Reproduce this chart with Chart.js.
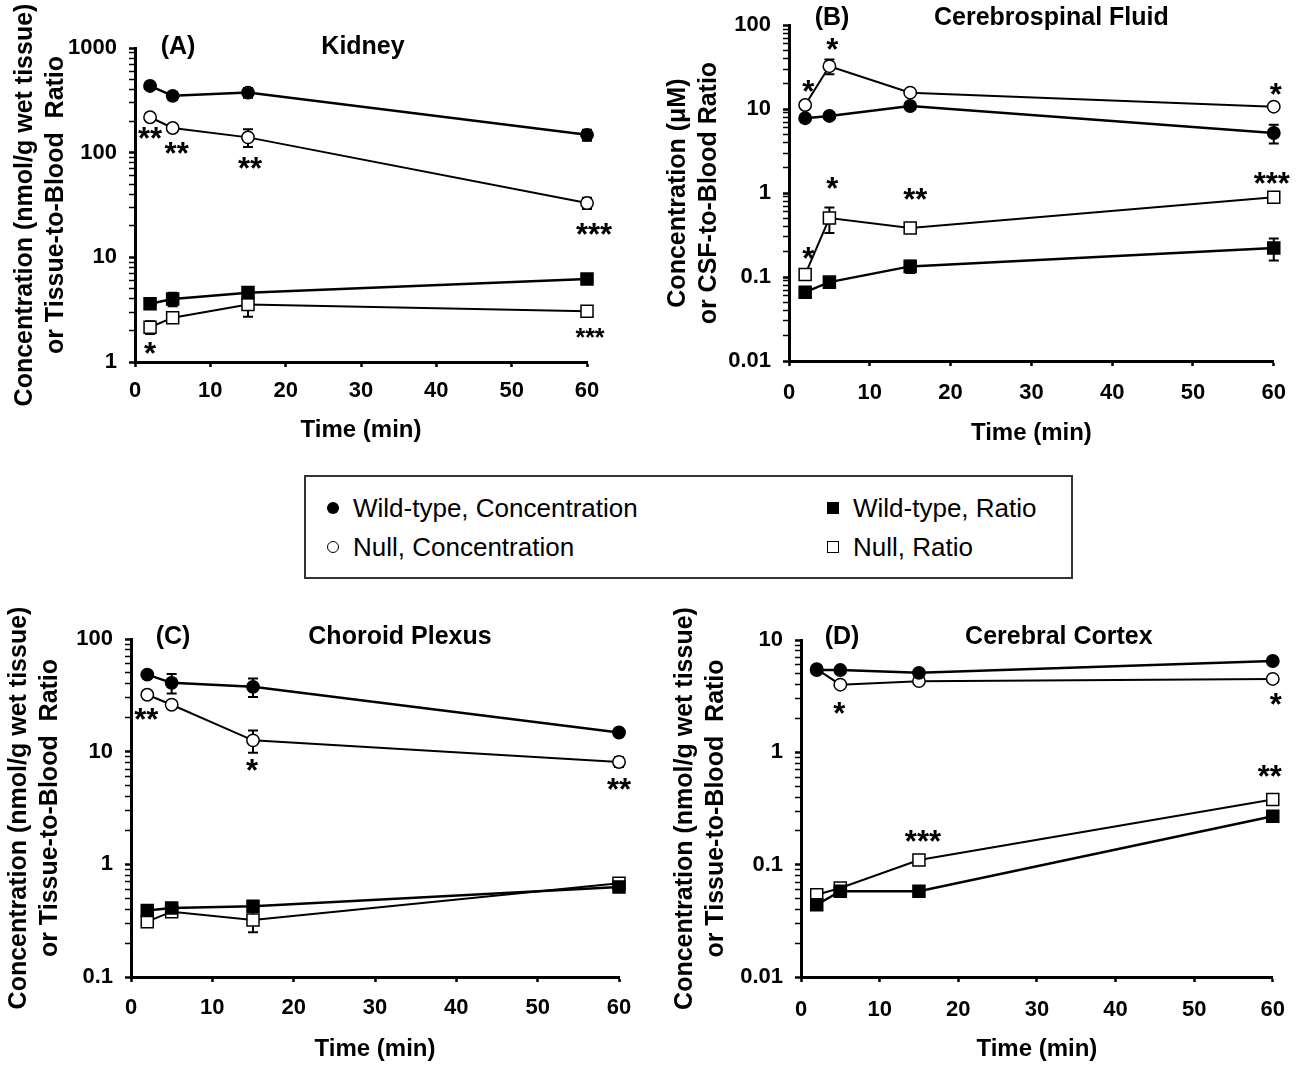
<!DOCTYPE html>
<html>
<head>
<meta charset="utf-8">
<title>Concentration and tissue-to-blood ratio, wild-type vs null</title>
<script src="https://cdn.jsdelivr.net/npm/chart.js@4.4.0/dist/chart.umd.min.js"></script>
<style>
  body { margin: 0; background: #fff; }
  #page { position: relative; width: 1300px; height: 1070px; overflow: hidden; background: #fff; }
  canvas { position: absolute; }
  #legend {
    position: absolute; left: 304px; top: 475px; width: 765px; height: 100px;
    border: 2px solid #333; background: #fff;
    font-family: "Liberation Sans", Arial, sans-serif; font-size: 26px; color: #000;
  }
  .item { position: absolute; height: 30px; line-height: 30px; white-space: nowrap; }
  .mark { position: absolute; top: 9px; width: 12px; height: 12px; box-sizing: border-box; }
  .mark.circle { border-radius: 50%; }
  .mark.filled { background: #000; }
  .mark.open { background: #fff; border: 1px solid #000; }
  .label { position: absolute; left: 26px; top: 0; }
</style>
</head>
<body>
<div id="page">
  <canvas id="chartA" width="650" height="455" style="left:0;top:0"></canvas>
  <canvas id="chartB" width="650" height="455" style="left:650px;top:0"></canvas>
  <canvas id="chartC" width="650" height="470" style="left:0;top:600px"></canvas>
  <canvas id="chartD" width="650" height="470" style="left:650px;top:600px"></canvas>
  <div id="legend">
    <div class="item" style="left:21px;top:16px"><span class="mark circle filled"></span><span class="label">Wild-type, Concentration</span></div>
    <div class="item" style="left:21px;top:55px"><span class="mark circle open"></span><span class="label">Null, Concentration</span></div>
    <div class="item" style="left:521px;top:16px"><span class="mark filled"></span><span class="label">Wild-type, Ratio</span></div>
    <div class="item" style="left:521px;top:55px"><span class="mark open"></span><span class="label">Null, Ratio</span></div>
  </div>
</div>
<script>
// sampling times (min)
const times = [2, 5, 15, 60];
const xTicks = [0, 10, 20, 30, 40, 50, 60];

// (A) Kidney
const wtConcA = [434, 349, 375, 148];
const wtConcErrA = [30, 28, 40, 18];
const nullConcA = [218, 172, 140, 33];
const nullConcErrA = [12, 10, 27, 4];
const wtRatioA = [3.6, 4.0, 4.6, 6.2];
const wtRatioErrA = [0.3, 0.6, 0.4, 0.3];
const nullRatioA = [2.15, 2.65, 3.55, 3.05];
const nullRatioErrA = [0.3, 0.2, 0.85, 0.2];
const starsConcA = ['**', '**', '**', '***'];
const starsRatioA = ['*', '', '', '***'];
const yDecadesA = [1, 10, 100, 1000];
const yLabelsA = ['1', '10', '100', '1000'];

// (B) Cerebrospinal fluid
const wtConcB = [7.8, 8.3, 10.9, 5.2];
const wtConcErrB = [0.8, 0.6, 1.0, 1.3];
const nullConcB = [11.2, 32.5, 15.7, 10.7];
const nullConcErrB = [0.8, 6.5, 1.0, 0.8];
const wtRatioB = [0.066, 0.087, 0.134, 0.222];
const wtRatioErrB = [0.005, 0.008, 0.022, 0.065];
const nullRatioB = [0.107, 0.505, 0.384, 0.895];
const nullRatioErrB = [0.008, 0.17, 0.03, 0.05];
const starsConcB = ['*', '*', '', '*'];
const starsRatioB = ['*', '*', '**', '***'];
const yDecadesB = [0.01, 0.1, 1, 10, 100];
const yLabelsB = ['0.01', '0.1', '1', '10', '100'];

// (C) Choroid plexus
const wtConcC = [48.3, 40.8, 37.6, 14.8];
const wtConcErrC = [3, 8, 7, 1];
const nullConcC = [32, 26.1, 12.6, 8.1];
const nullConcErrC = [2, 1.5, 2.8, 0.8];
const wtRatioC = [0.39, 0.41, 0.425, 0.63];
const wtRatioErrC = [0.03, 0.03, 0.03, 0.03];
const nullRatioC = [0.31, 0.38, 0.32, 0.68];
const nullRatioErrC = [0.02, 0.03, 0.07, 0.04];
const starsConcC = ['**', '', '*', '**'];
const yDecadesC = [0.1, 1, 10, 100];
const yLabelsC = ['0.1', '1', '10', '100'];

// (D) Cerebral cortex
const wtConcD = [5.4, 5.4, 5.1, 6.5];
const wtConcErrD = [0.3, 0.3, 0.3, 0.3];
const nullConcD = [5.5, 4.0, 4.3, 4.5];
const nullConcErrD = [0.3, 0.2, 0.2, 0.2];
const wtRatioD = [0.044, 0.058, 0.058, 0.27];
const wtRatioErrD = [0.004, 0.003, 0.003, 0.02];
const nullRatioD = [0.054, 0.062, 0.11, 0.38];
const nullRatioErrD = [0.004, 0.003, 0.006, 0.02];
const starsConcD = ['', '*', '', '*'];
const starsRatioD = ['', '', '***', '**'];
const yDecadesD = [0.01, 0.1, 1, 10];
const yLabelsD = ['0.01', '0.1', '1', '10'];

const FONT = '"Liberation Sans", Arial, sans-serif';

// error bars drawn under the markers
const errorBarPlugin = {
    id: 'errorBars',
    beforeDatasetsDraw(chart) {
        const ctx = chart.ctx;
        const y = chart.scales.y;
        ctx.save();
        ctx.strokeStyle = '#000';
        ctx.lineWidth = 2;
        chart.data.datasets.forEach((ds, di) => {
            if (!ds.errors) return;
            const meta = chart.getDatasetMeta(di);
            meta.data.forEach((pt, i) => {
                const v = ds.data[i].y, e = ds.errors[i];
                const top = y.getPixelForValue(v + e);
                const bot = y.getPixelForValue(Math.max(v - e, y.min));
                ctx.beginPath();
                ctx.moveTo(pt.x, top); ctx.lineTo(pt.x, bot);
                ctx.moveTo(pt.x - 5, top); ctx.lineTo(pt.x + 5, top);
                ctx.moveTo(pt.x - 5, bot); ctx.lineTo(pt.x + 5, bot);
                ctx.stroke();
            });
        });
        ctx.restore();
    }
};

// significance asterisks next to the null points
const starPlugin = {
    id: 'stars',
    afterDatasetsDraw(chart) {
        const ctx = chart.ctx;
        ctx.save();
        ctx.fillStyle = '#000';
        ctx.textAlign = 'center';
        ctx.textBaseline = 'alphabetic';
        chart.data.datasets.forEach((ds, di) => {
            if (!ds.stars) return;
            const meta = chart.getDatasetMeta(di);
            ds.stars.forEach((s, i) => {
                if (!s) return;
                const size = (ds.starSize && ds.starSize[i]) || 31;
                ctx.font = 'bold ' + size + 'px ' + FONT;
                const pt = meta.data[i];
                ctx.fillText(s, pt.x + ds.starDx[i], pt.y + ds.starDy[i] + 0.55 * size);
            });
        });
        ctx.restore();
    }
};

const panelTitlePlugin = {
    id: 'panelTitle',
    afterDraw(chart, args, opts) {
        const ctx = chart.ctx, a = chart.chartArea;
        ctx.save();
        ctx.fillStyle = '#000';
        ctx.font = 'bold 25px ' + FONT;
        ctx.textAlign = 'center';
        ctx.textBaseline = 'middle';
        ctx.fillText(opts.letter, a.left + opts.letterDx, a.top + opts.dy);
        ctx.fillText(opts.name, (a.left + a.right) / 2 + opts.nameDx, a.top + opts.dy);
        ctx.restore();
    }
};

function minorTicks(decades) {
    const out = [];
    decades.forEach((d, k) => {
        out.push(d);
        if (k < decades.length - 1) {
            for (let m = 2; m <= 9; m++) out.push(+(d * m).toPrecision(3));
        }
    });
    return out;
}

function series(vals, errs, filled, square, extra) {
    return Object.assign({
        data: times.map((t, i) => ({ x: t, y: vals[i] })),
        errors: errs,
        borderColor: '#000',
        borderWidth: filled ? 2.5 : 2,
        backgroundColor: filled ? '#000' : '#fff',
        pointStyle: square ? 'rect' : 'circle',
        pointRadius: square ? 8.5 : 6.2,
        pointBorderWidth: 1.5,
        pointBorderColor: '#000',
        pointBackgroundColor: filled ? '#000' : '#fff',
        fill: false,
        tension: 0,
        clip: false
    }, extra || {});
}

function makePanel(id, cfg) {
    const decadeLabel = {};
    cfg.decades.forEach((d, i) => { decadeLabel[d] = cfg.labels[i]; });
    new Chart(document.getElementById(id), {
        type: 'line',
        data: { datasets: cfg.datasets },
        options: {
            responsive: false,
            animation: false,
            layout: { padding: { left: 0, top: cfg.padTop, right: cfg.padRight, bottom: 0 } },
            scales: {
                x: {
                    type: 'linear', min: 0, max: 60,
                    afterBuildTicks: s => { s.ticks = xTicks.map(v => ({ value: v })); },
                    afterFit: s => { s.height = cfg.xHeight; },
                    grid: { drawOnChartArea: false, tickLength: 5, tickWidth: 2.5, tickColor: '#000' },
                    border: { display: true, color: '#000', width: 3 },
                    ticks: { color: '#000', padding: cfg.xTickPad, maxRotation: 0,
                             font: { family: FONT, size: 22, weight: 'bold' },
                             callback: v => String(v) },
                    title: { display: true, text: 'Time (min)', color: '#000',
                             font: { family: FONT, size: 24, weight: 'bold', lineHeight: 1.2 },
                             padding: { top: 0, bottom: cfg.xTitlePad } }
                },
                y: {
                    type: 'logarithmic',
                    min: cfg.decades[0], max: cfg.decades[cfg.decades.length - 1],
                    afterBuildTicks: s => { s.ticks = minorTicks(cfg.decades).map(v => ({ value: v })); },
                    afterFit: s => { s.width = cfg.yWidth; },
                    grid: { drawOnChartArea: false, tickLength: 6, tickColor: '#000',
                            tickWidth: c => (c.tick && decadeLabel[c.tick.value] !== undefined) ? 2.5 : 1.5 },
                    border: { display: true, color: '#000', width: 3 },
                    ticks: { color: '#000', padding: 12, autoSkip: false,
                             font: { family: FONT, size: 22, weight: 'bold' },
                             callback: v => decadeLabel[v] !== undefined ? decadeLabel[v] : '' },
                    title: { display: true, text: cfg.yTitle, color: '#000',
                             font: { family: FONT, size: 25, weight: 'bold', lineHeight: 1.25 },
                             padding: { top: cfg.yTitlePad, bottom: 0 } }
                }
            },
            plugins: {
                legend: { display: false },
                tooltip: { enabled: false },
                panelTitle: cfg.title
            }
        },
        plugins: [errorBarPlugin, starPlugin, panelTitlePlugin]
    });
}

const tissueTitle = ['Concentration (nmol/g wet tissue)', 'or Tissue-to-Blood  Ratio'];

makePanel('chartA', {
    decades: yDecadesA, labels: yLabelsA,
    padTop: 48, padRight: 63, yWidth: 135, xHeight: 93,
    xTickPad: 11, xTitlePad: 10, yTitlePad: 9,
    yTitle: tissueTitle,
    title: { letter: '(A)', name: 'Kidney', letterDx: 43, nameDx: 2, dy: -1 },
    datasets: [
        series(wtConcA, wtConcErrA, true, false),
        series(nullConcA, nullConcErrA, false, false,
               { stars: starsConcA, starDx: [0, 4, 2, 7], starDy: [15, 19, 25, 25] }),
        series(wtRatioA, wtRatioErrA, true, true),
        series(nullRatioA, nullRatioErrA, false, true,
               { stars: starsRatioA, starDx: [0, 0, 0, 3], starDy: [20, 0, 0, 21], starSize: [31, 0, 0, 25] })
    ]
});

makePanel('chartB', {
    decades: yDecadesB, labels: yLabelsB,
    padTop: 24, padRight: 21, yWidth: 139, xHeight: 94,
    xTickPad: 14, xTitlePad: 7, yTitlePad: 12,
    yTitle: ['Concentration (\u03BCM)', 'or CSF-to-Blood Ratio'],
    title: { letter: '(B)', name: 'Cerebrospinal Fluid', letterDx: 43, nameDx: 20, dy: -7 },
    datasets: [
        series(wtConcB, wtConcErrB, true, false),
        series(nullConcB, nullConcErrB, false, false,
               { stars: starsConcB, starDx: [3, 3, 0, 2], starDy: [-20, -23, 0, -19] }),
        series(wtRatioB, wtRatioErrB, true, true),
        series(nullRatioB, nullRatioErrB, false, true,
               { stars: starsRatioB, starDx: [3, 3, 5, -2], starDy: [-23, -36, -35, -20] })
    ]
});

makePanel('chartC', {
    decades: yDecadesC, labels: yLabelsC,
    padTop: 39, padRight: 31, yWidth: 131, xHeight: 93,
    xTickPad: 13, xTitlePad: 6, yTitlePad: 3,
    yTitle: tissueTitle,
    title: { letter: '(C)', name: 'Choroid Plexus', letterDx: 42, nameDx: 25, dy: -2 },
    datasets: [
        series(wtConcC, wtConcErrC, true, false),
        series(nullConcC, nullConcErrC, false, false,
               { stars: starsConcC, starDx: [-1, 0, -1, 0], starDy: [18, 0, 24, 21] }),
        series(wtRatioC, wtRatioErrC, true, true),
        series(nullRatioC, nullRatioErrC, false, true)
    ]
});

makePanel('chartD', {
    decades: yDecadesD, labels: yLabelsD,
    padTop: 40, padRight: 17, yWidth: 151, xHeight: 93,
    xTickPad: 15, xTitlePad: 6, yTitlePad: 19,
    yTitle: tissueTitle,
    title: { letter: '(D)', name: 'Cerebral Cortex', letterDx: 41, nameDx: 22, dy: -3 },
    datasets: [
        series(wtConcD, wtConcErrD, true, false),
        series(nullConcD, nullConcErrD, false, false,
               { stars: starsConcD, starDx: [0, -1, 0, 3], starDy: [0, 22, 0, 19] }),
        series(wtRatioD, wtRatioErrD, true, true),
        series(nullRatioD, nullRatioErrD, false, true,
               { stars: starsRatioD, starDx: [0, 0, 4, -3], starDy: [0, 0, -25, -30] })
    ]
});
</script>
</body>
</html>
